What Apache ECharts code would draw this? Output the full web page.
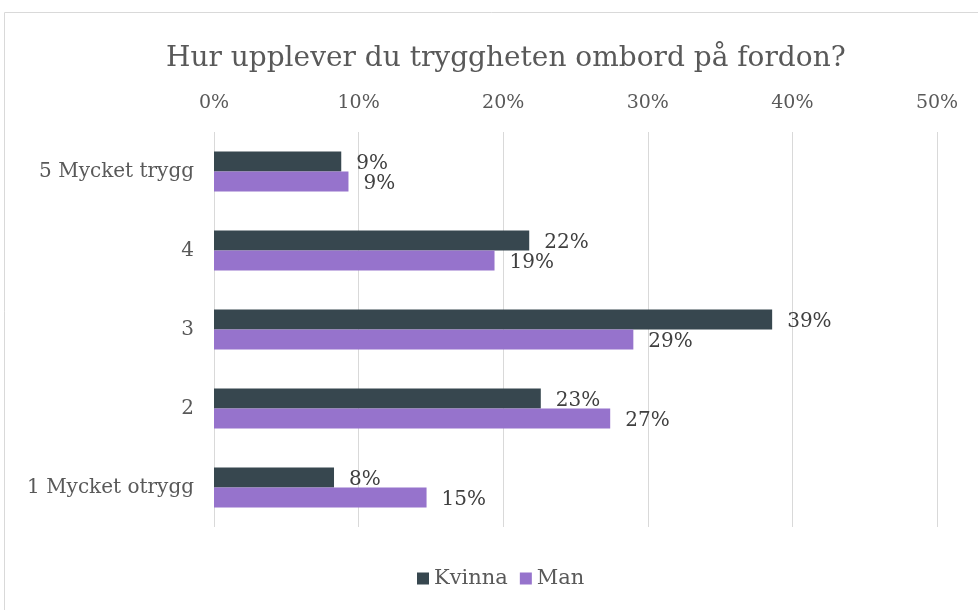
<!DOCTYPE html>
<html>
<head>
<meta charset="utf-8">
<script src="https://cdn.jsdelivr.net/npm/echarts@6/dist/echarts.min.js"></script>
<style>
  html, body { margin: 0; padding: 0; background: #fff; }
  #chart { width: 978px; height: 610px; }
</style>
</head>
<body>
<div id="chart"></div>
<script>
// kategorier uppifrån och ner
var categories = ['5 Mycket trygg', '4', '3', '2', '1 Mycket otrygg'];
var kvinna = [8.8, 21.8, 38.6, 22.6, 8.3];
var man = [9.3, 19.4, 29.0, 27.4, 14.7];
var xTicks = [0, 10, 20, 30, 40, 50];

var font = 'DejaVu Serif';
var mychart = echarts.init(document.getElementById('chart'));

var labelOpt = {
    show: true,
    position: 'right',
    distance: 15,
    offset: [0, 2],
    color: '#404040',
    fontFamily: font,
    fontSize: 20,
    formatter: function (p) { return Math.round(p.value) + '%'; }
};

var option = {
    animation: false,
    graphic: [{
        type: 'rect',
        shape: { x: 4.5, y: 12.5, width: 1000, height: 700 },
        style: { fill: 'none', stroke: '#d9d9d9', lineWidth: 1 },
        silent: true
    }],
    title: {
        text: 'Hur upplever du tryggheten ombord på fordon?',
        left: 161,
        top: 40,
        textStyle: { fontFamily: font, fontSize: 28, fontWeight: 'normal', color: '#595959' }
    },
    legend: {
        bottom: 16,
        left: 412,
        icon: 'rect',
        itemWidth: 12,
        itemHeight: 12,
        itemGap: 12,
        textStyle: { fontFamily: font, fontSize: 21, color: '#595959' },
        data: ['Kvinna', 'Man']
    },
    grid: { left: 214, right: 41, top: 132, bottom: 83, containLabel: false },
    xAxis: {
        type: 'value',
        position: 'top',
        min: xTicks[0],
        max: xTicks[xTicks.length - 1],
        interval: 10,
        axisLine: { show: false },
        axisTick: { show: false },
        axisLabel: { formatter: '{value}%', fontFamily: font, fontSize: 19, color: '#595959', margin: 19 },
        splitLine: { lineStyle: { color: '#d9d9d9', width: 1 } }
    },
    yAxis: {
        type: 'category',
        inverse: true,
        data: categories,
        axisLine: { show: false },
        axisTick: { show: false },
        axisLabel: { fontFamily: font, fontSize: 20, color: '#595959', margin: 20 }
    },
    series: [
        {
            name: 'Kvinna',
            type: 'bar',
            data: kvinna,
            barWidth: 20,
            barGap: '0%',
            itemStyle: { color: '#37474f' },
            label: labelOpt
        },
        {
            name: 'Man',
            type: 'bar',
            data: man,
            barWidth: 20,
            barGap: '0%',
            itemStyle: { color: '#9673cc' },
            label: labelOpt
        }
    ]
};

mychart.setOption(option);
</script>
</body>
</html>
